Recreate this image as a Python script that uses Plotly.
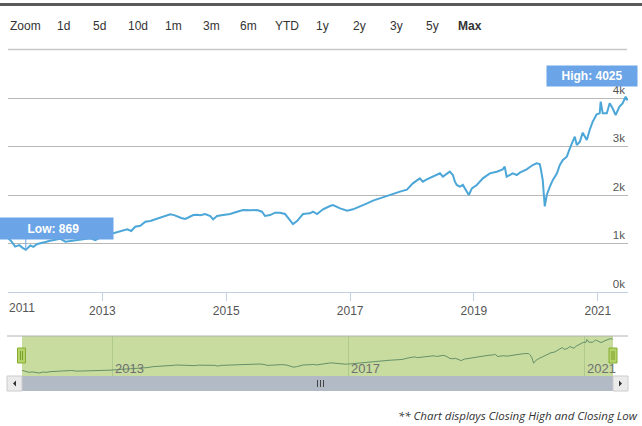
import plotly.graph_objects as go

# ---------------- data ----------------
dates = [
    "2011-06-24", "2011-07-14", "2011-08-05", "2011-08-30", "2011-09-16", "2011-10-07",
    "2011-11-03", "2011-11-20", "2011-12-14", "2012-01-01", "2012-01-30", "2012-02-28",
    "2012-03-29", "2012-04-27", "2012-05-27", "2012-06-26", "2012-07-25", "2012-08-24",
    "2012-09-22", "2012-10-22", "2012-11-20", "2012-12-20", "2013-01-24", "2013-03-06",
    "2013-04-16", "2013-05-27", "2013-06-20", "2013-07-13", "2013-08-12", "2013-09-11",
    "2013-10-10", "2013-11-08", "2013-12-07", "2013-12-25", "2014-01-18", "2014-02-05",
    "2014-02-28", "2014-03-18", "2014-04-11", "2014-05-05", "2014-05-28", "2014-06-21",
    "2014-07-14", "2014-08-01", "2014-08-30", "2014-09-29", "2014-10-16", "2014-11-08",
    "2014-12-14", "2015-01-24", "2015-03-06", "2015-04-11", "2015-05-21", "2015-07-02",
    "2015-07-31", "2015-08-18", "2015-09-17", "2015-10-16", "2015-11-14", "2015-12-14",
    "2016-01-12", "2016-01-30", "2016-02-23", "2016-03-29", "2016-05-09", "2016-05-27",
    "2016-06-20", "2016-07-25", "2016-09-04", "2016-09-22", "2016-11-03", "2016-12-14",
    "2017-01-18", "2017-02-28", "2017-04-11", "2017-05-16", "2017-06-26", "2017-08-07",
    "2017-09-11", "2017-10-22", "2017-12-02", "2018-01-06", "2018-02-16", "2018-03-06",
    "2018-03-29", "2018-05-05", "2018-06-15", "2018-07-02", "2018-07-25", "2018-08-12",
    "2018-08-30", "2018-09-11", "2018-09-22", "2018-10-10", "2018-10-28", "2018-11-20",
    "2018-12-02", "2018-12-20", "2019-01-18", "2019-02-23", "2019-04-05", "2019-05-16",
    "2019-06-20", "2019-07-02", "2019-07-13", "2019-07-31", "2019-08-18", "2019-09-11",
    "2019-09-29", "2019-11-08", "2019-12-14", "2020-01-06", "2020-01-24", "2020-01-30",
    "2020-02-11", "2020-02-23", "2020-03-06", "2020-03-24", "2020-04-11", "2020-05-05",
    "2020-05-22", "2020-06-09", "2020-07-02", "2020-07-20", "2020-08-07", "2020-08-18",
    "2020-08-30", "2020-09-17", "2020-10-04", "2020-10-28", "2020-11-14", "2020-12-02",
    "2020-12-25", "2021-01-12", "2021-01-18", "2021-01-30", "2021-02-23", "2021-03-12",
    "2021-03-29", "2021-04-16", "2021-05-09", "2021-05-27", "2021-06-14", "2021-06-26",
]
values = [
    1113, 1045, 935, 966, 915, 869,
    960, 930, 990, 1010, 1030, 1058,
    1080, 1100, 1037, 1050, 1060, 1071,
    1090, 1106, 1071, 1127, 1170, 1209,
    1244, 1292, 1258, 1346, 1367, 1450,
    1466, 1498, 1525, 1553, 1570, 1601,
    1585, 1553, 1526, 1505, 1545, 1587,
    1595, 1585, 1608, 1567, 1496, 1567,
    1587, 1608, 1656, 1691, 1684, 1691,
    1656, 1567, 1587, 1635, 1635, 1608,
    1484, 1402, 1463, 1608, 1622, 1656,
    1608, 1705, 1773, 1794, 1725, 1677,
    1705, 1773, 1828, 1883, 1931, 1981,
    2034, 2069, 2110, 2240, 2343, 2275,
    2323, 2378, 2447, 2378, 2447, 2481,
    2412, 2275, 2207, 2172, 2207, 2069,
    2000, 2137, 2207, 2343, 2447, 2481,
    2529, 2584, 2378, 2412, 2447, 2412,
    2460, 2529, 2618, 2653, 2639, 2550,
    2310, 1765, 2000, 2172, 2310, 2447,
    2618, 2721, 2790, 2962, 3100, 3202,
    3031, 3100, 3285, 3134, 3340, 3512,
    3663, 3684, 3925, 3684, 3684, 3890,
    3787, 3650, 3822, 3890, 4025, 3950,
]
x_range = ["2011-06-24", "2021-06-28"]
x_tick_vals = ["2013-01-01", "2015-01-01", "2017-01-01", "2019-01-01", "2021-01-01"]
x_tick_text = ["2013", "2015", "2017", "2019", "2021"]
first_year_label = "2011"
y_tick_vals = [0, 1000, 2000, 3000, 4000]
y_tick_text = ["0k", "1k", "2k", "3k", "4k"]
nav_tick_vals = ["2013-01-01", "2017-01-01", "2021-01-01"]
nav_tick_text = ["2013", "2017", "2021"]
zoom_buttons = ["Zoom", "1d", "5d", "10d", "1m", "3m", "6m", "YTD", "1y", "2y", "3y", "5y", "Max"]
footer_text = "** Chart displays Closing High and Closing Low"

# ---------------- helpers ----------------
W, H = 642, 426
FONT = "Liberation Sans, Arial, sans-serif"


def px(x):
    return x / W


def py(y):
    return 1 - y / H


low_val = min(values)
low_date = dates[values.index(low_val)]
high_val = max(values)
high_date = dates[values.index(high_val)]

fig = go.Figure()
fig.add_trace(go.Scatter(x=dates, y=values, mode="lines",
                         line=dict(color="#4ca7d8", width=2),
                         xaxis="x", yaxis="y", hoverinfo="skip", showlegend=False))
fig.add_trace(go.Scatter(x=dates, y=values, mode="lines",
                         line=dict(color="#66906a", width=1),
                         xaxis="x2", yaxis="y2", hoverinfo="skip", showlegend=False))

shapes = []
# top dark bar and separator
shapes.append(dict(type="rect", xref="paper", yref="paper", x0=0, x1=1, y0=py(6), y1=py(3),
                   fillcolor="#5a5a5a", line=dict(width=0)))
shapes.append(dict(type="line", xref="paper", yref="paper", x0=px(8), x1=px(627),
                   y0=py(49.5), y1=py(49.5), line=dict(color="#c8c8c8", width=1.5)))
# navigator background
shapes.append(dict(type="rect", xref="x2 domain", yref="y2 domain", x0=0, x1=1, y0=0, y1=1,
                   fillcolor="#c7dc9e", line=dict(width=0), layer="below"))
shapes.append(dict(type="line", xref="paper", yref="paper", x0=px(7), x1=px(628),
                   y0=py(336), y1=py(336), line=dict(color="#b2b1b6", width=1)))
# scrollbar
shapes.append(dict(type="rect", xref="paper", yref="paper", x0=px(22), x1=px(613),
                   y0=py(391), y1=py(376), fillcolor="#b2bac6", line=dict(width=0)))
for bx0, bx1 in [(7, 22), (613, 628)]:
    shapes.append(dict(type="rect", xref="paper", yref="paper", x0=px(bx0), x1=px(bx1),
                       y0=py(391), y1=py(376), fillcolor="#ebebeb",
                       line=dict(color="#cccccc", width=1)))
# arrows
shapes.append(dict(type="path", xref="paper", yref="paper",
                   path=f"M {px(16)} {py(380.5)} L {px(13)} {py(383.5)} L {px(16)} {py(386.5)} Z",
                   fillcolor="#333333", line=dict(width=0)))
shapes.append(dict(type="path", xref="paper", yref="paper",
                   path=f"M {px(619)} {py(380.5)} L {px(622)} {py(383.5)} L {px(619)} {py(386.5)} Z",
                   fillcolor="#333333", line=dict(width=0)))
# grip
for gx in (317.5, 320.5, 323.5):
    shapes.append(dict(type="line", xref="paper", yref="paper", x0=px(gx), x1=px(gx),
                       y0=py(387), y1=py(380), line=dict(color="#444444", width=1)))
# handles
for hx0, hx1 in [(17.5, 25.5), (609, 617)]:
    shapes.append(dict(type="rect", xref="paper", yref="paper", x0=px(hx0), x1=px(hx1),
                       y0=py(363), y1=py(348), fillcolor="#b4d46a",
                       line=dict(color="#86ad32", width=1)))
    for lx in (hx0 + 3, hx0 + 5):
        shapes.append(dict(type="line", xref="paper", yref="paper", x0=px(lx), x1=px(lx),
                           y0=py(360), y1=py(351), line=dict(color="#7a9f2c", width=1)))
# low connector
shapes.append(dict(type="line", xref="x", yref="y", x0=low_date, x1=low_date,
                   ysizemode="pixel", yanchor=low_val, y0=0, y1=11,
                   line=dict(color="#6ba5e7", width=1)))

annotations = []
zoom_x = [8, 55, 91, 126, 163, 201, 238, 273, 314, 351, 388, 424, 456]
for lab, zx in zip(zoom_buttons, zoom_x):
    annotations.append(dict(xref="paper", yref="paper", x=px(zx), y=py(26),
                            xanchor="left", yanchor="middle", showarrow=False,
                            text=("<b>%s</b>" % lab) if lab == "Max" else lab,
                            font=dict(family=FONT, size=12, color="#333333")))
annotations.append(dict(xref="paper", yref="paper", x=px(7), y=py(307.5),
                        xanchor="left", yanchor="middle", showarrow=False,
                        text=first_year_label, font=dict(family=FONT, size=12, color="#555555")))
# navigator axis labels (left-aligned just right of each gridline)
for nv, nt in zip(nav_tick_vals, nav_tick_text):
    annotations.append(dict(xref="x2", yref="paper", x=nv, y=py(368),
                            xanchor="left", yanchor="middle", xshift=1, showarrow=False,
                            text=nt, font=dict(family=FONT, size=13, color="#707070")))
annotations.append(dict(xref="x", yref="y", x=low_date, y=low_val, showarrow=False,
                        xanchor="center", yanchor="middle", xshift=30.5, yshift=21.5,
                        width=113, height=21, borderpad=0, bgcolor="#6ba5e7",
                        text="<b>Low: %d</b>&nbsp;&nbsp;" % low_val,
                        font=dict(family=FONT, size=12, color="white")))
annotations.append(dict(xref="x", yref="y", x=high_date, y=high_val, showarrow=False,
                        xanchor="center", yanchor="middle", xshift=-33.7, yshift=20.5,
                        width=90, height=20, borderpad=0, bgcolor="#6ba5e7",
                        text="<b>High: %d</b>" % high_val,
                        font=dict(family=FONT, size=12, color="white")))
annotations.append(dict(xref="paper", yref="paper", x=px(640), y=py(415),
                        xanchor="right", yanchor="middle", showarrow=False,
                        text="<i>%s</i>" % footer_text,
                        font=dict(family="Open Sans, sans-serif", size=11.5, color="#333333")))

fig.update_layout(
    width=W, height=H,
    margin=dict(l=0, r=0, t=0, b=0),
    paper_bgcolor="white", plot_bgcolor="white",
    showlegend=False,
    xaxis=dict(domain=[px(8), px(628)], range=x_range, type="date", anchor="y",
               tickvals=x_tick_vals, ticktext=x_tick_text,
               ticks="outside", ticklen=8, tickcolor="#c0d0e0", tickwidth=1,
               showline=True, linecolor="#c0d0e0", linewidth=1,
               showgrid=False, zeroline=False,
               tickfont=dict(family=FONT, size=12, color="#555555")),
    yaxis=dict(domain=[py(292), py(60)], range=[0, 4783.5], anchor="x",
               side="right", ticklabelposition="inside top",
               tickvals=y_tick_vals, ticktext=y_tick_text,
               showgrid=True, gridcolor="#b8b8b8", gridwidth=1, zeroline=False,
               ticks="", tickfont=dict(family=FONT, size=11.5, color="#555555")),
    xaxis2=dict(domain=[px(22), px(613)], range=x_range, type="date", anchor="y2",
                tickvals=nav_tick_vals, showticklabels=False, ticks="",
                showgrid=True, gridcolor="#afc98c", gridwidth=1,
                showline=False, zeroline=False),
    yaxis2=dict(domain=[py(376), py(336)], range=[595, 4254], anchor="x2",
                visible=False, showgrid=False, zeroline=False),
    shapes=shapes,
    annotations=annotations,
)

fig.write_html("out.html")
